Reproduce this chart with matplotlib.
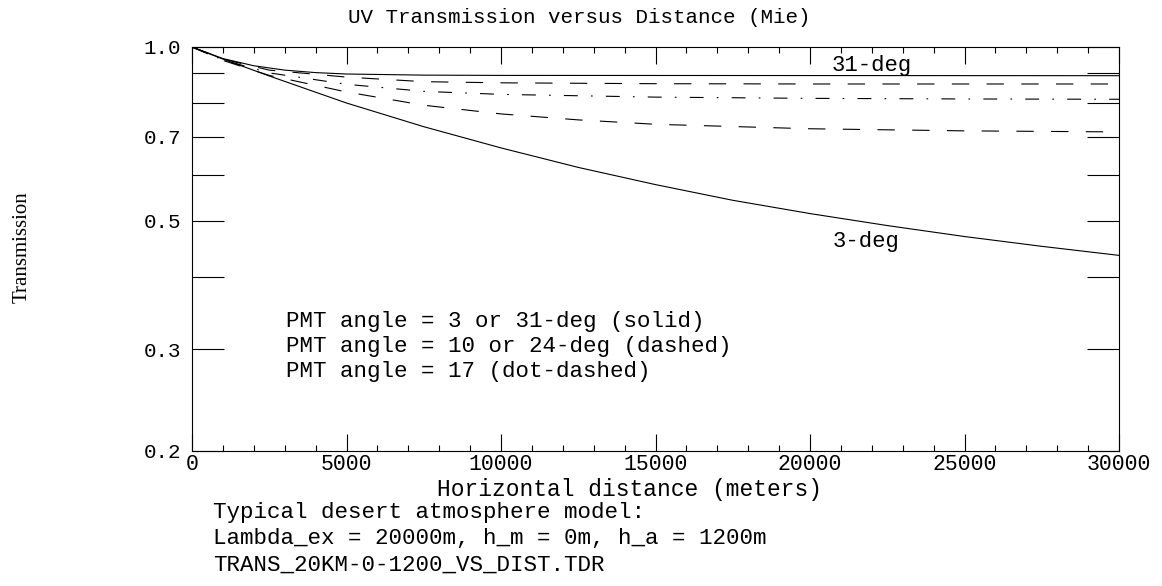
"""
UV transmission versus horizontal distance (Mie scattering),
log-scale transmission for several PMT angles.
"""

import matplotlib
matplotlib.use("Agg")
import matplotlib.pyplot as plt
from matplotlib.ticker import FixedLocator, NullFormatter, FixedFormatter

# ---------------------------------------------------------------------------
# Data
# ---------------------------------------------------------------------------

dist_3   = [0, 1000, 2500, 5000, 7500, 10000, 12500, 15000, 17500, 20000,
            22500, 25000, 27500, 30000]
trans_3  = [1.0, 0.953, 0.891, 0.800, 0.728, 0.669, 0.619, 0.578, 0.543,
            0.515, 0.491, 0.470, 0.452, 0.436]

dist_10  = [0, 1000, 2500, 5000, 7500, 10000, 12500, 15000, 20000, 25000, 30000]
trans_10 = [1.0, 0.948, 0.893, 0.836, 0.793, 0.766, 0.748, 0.735, 0.722,
            0.716, 0.713]

dist_17  = [0, 1000, 2500, 5000, 7500, 10000, 15000, 20000, 25000, 30000]
trans_17 = [1.0, 0.950, 0.902, 0.862, 0.838, 0.828, 0.819, 0.815, 0.813, 0.812]

dist_24  = [0, 1000, 2500, 5000, 7500, 10000, 15000, 20000, 30000]
trans_24 = [1.0, 0.953, 0.912, 0.887, 0.871, 0.867, 0.864, 0.863, 0.863]

dist_31  = [0, 1000, 2000, 3000, 4000, 5000, 7500, 10000, 30000]
trans_31 = [1.0, 0.955, 0.928, 0.912, 0.903, 0.898, 0.894, 0.893, 0.892]

y_major = [0.2, 0.3, 0.5, 0.7, 1.0]
y_minor = [0.4, 0.6, 0.8, 0.9]
x_major = [0, 5000, 10000, 15000, 20000, 25000, 30000]

notes = [
    "Typical desert atmosphere model:",
    "Lambda_ex = 20000m, h_m = 0m, h_a = 1200m",
    "TRANS_20KM-0-1200_VS_DIST.TDR",
]
legend_lines = [
    "PMT angle = 3 or 31-deg (solid)",
    "PMT angle = 10 or 24-deg (dashed)",
    "PMT angle = 17 (dot-dashed)",
]

# ---------------------------------------------------------------------------
# Figure
# ---------------------------------------------------------------------------

W, H = 1162, 586
plt.rcParams["lines.scale_dashes"] = False
MONO = "Liberation Mono"

fig = plt.figure(figsize=(W / 100, H / 100), dpi=100)


def fx(px):
    return px / W


def fy(py):
    return 1 - py / H


ax = fig.add_axes([fx(192), fy(451), fx(1119) - fx(192), fy(47) - fy(451)])
ax.set_yscale("log")

LW = 0.8
dash = (0, (12.5, 12.5))
dotdash = (0, (10, 9.5, 1.2, 9.5))

ax.plot(dist_3, trans_3, color="black", lw=LW)
ax.plot(dist_31, trans_31, color="black", lw=LW)
ax.plot(dist_10, trans_10, color="black", lw=LW, linestyle=dash)
ax.plot(dist_24, trans_24, color="black", lw=LW, linestyle=dash)
ax.plot(dist_17, trans_17, color="black", lw=LW, linestyle=dotdash)

ax.set_xlim(0, 30000)
ax.set_ylim(0.2, 1.0)

ax.xaxis.set_major_locator(FixedLocator(x_major))
ax.xaxis.set_minor_locator(FixedLocator(range(0, 30001, 1000)))
ax.yaxis.set_major_locator(FixedLocator(y_major))
ax.yaxis.set_major_formatter(FixedFormatter([f"{v:.1f}" for v in y_major]))
ax.yaxis.set_minor_locator(FixedLocator(y_minor))
ax.yaxis.set_minor_formatter(NullFormatter())

ax.tick_params(axis="both", which="both", direction="in", top=True,
               right=True, width=LW, color="black")
ax.tick_params(axis="x", which="major", length=12, pad=2)
ax.tick_params(axis="x", which="minor", length=4.5)
ax.tick_params(axis="y", which="both", length=23, pad=8)

for lab in ax.get_xticklabels():
    lab.set_fontfamily(MONO)
    lab.set_fontsize(15.5)
for lab in ax.get_yticklabels():
    lab.set_fontfamily(MONO)
    lab.set_fontsize(15)

for sp in ax.spines.values():
    sp.set_linewidth(LW)

# curve annotations and legend text inside the axes
fig.text(fx(832), fy(71), "31-deg", family=MONO, fontsize=16)
fig.text(fx(833), fy(247), "3-deg", family=MONO, fontsize=16)
for i, line in enumerate(legend_lines):
    fig.text(fx(286), fy(327 + 25 * i), line, family=MONO, fontsize=16.2)

# titles and labels
fig.text(fx(348), fy(23), "UV Transmission versus Distance (Mie)",
         family=MONO, fontsize=15)
fig.text(fx(437), fy(496), "Horizontal distance (meters)",
         family=MONO, fontsize=16.5)
fig.text(fx(22), fy(247), "Transmission", family="Liberation Serif",
         fontsize=15, rotation=90, ha="center", va="center")

for i, note in enumerate(notes):
    fig.text(fx(213), fy(518 + 26.5 * i), note, family=MONO, fontsize=16.2)

fig.savefig("out.png", dpi=100)
